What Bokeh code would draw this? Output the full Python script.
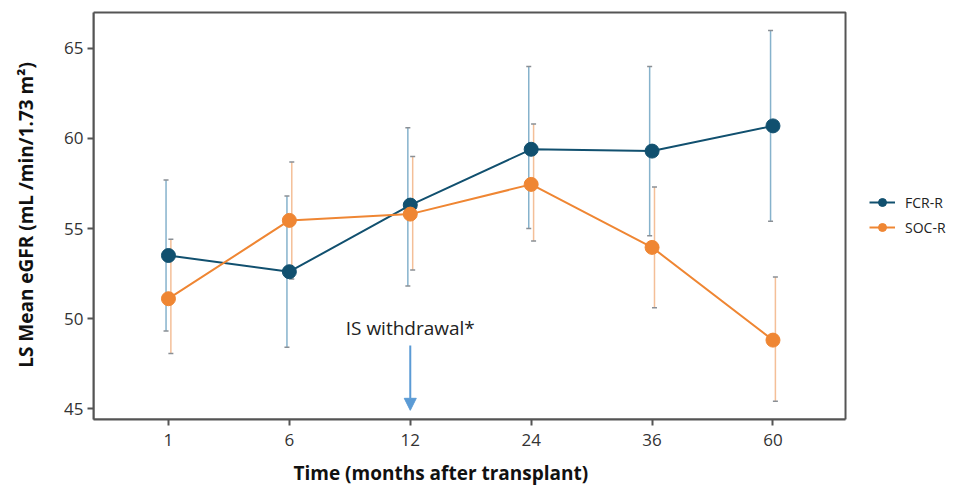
from bokeh.plotting import figure
from bokeh.models import (ColumnDataSource, Whisker, TeeHead, Legend, LegendItem,
                          FixedTicker, Arrow, NormalHead, Label, Range1d, BoxAnnotation,
                          Title)
from bokeh.embed import file_html
from bokeh.resources import INLINE

# ---- data ----
months = ["1", "6", "12", "24", "36", "60"]
fcr_mean = [53.5, 52.6, 56.3, 59.4, 59.3, 60.7]
fcr_upper = [57.7, 56.8, 60.6, 64.0, 64.0, 66.0]
fcr_lower = [49.3, 48.4, 51.8, 55.0, 54.6, 55.4]
soc_mean = [51.1, 55.45, 55.8, 57.45, 53.95, 48.8]
soc_upper = [54.4, 58.7, 59.0, 60.8, 57.3, 52.3]
soc_lower = [48.05, 52.2, 52.7, 54.3, 50.6, 45.4]
series_names = ["FCR-R", "SOC-R"]
y_ticks = [45, 50, 55, 60, 65]
x_title = "Time (months after transplant)"
y_title = "LS Mean eGFR (mL /min/1.73 m²)"

FONT = "Open Sans"
BLUE = "#11506f"
BLUE_ERR = "#86b2cc"
ORANGE = "#ef8633"
ORANGE_ERR = "#f4bf98"
ARROW = "#5b9bd5"
FRAME = "#555555"

idx = list(range(len(months)))

# visible plot box (data units); the canvas frame extends right to hold the legend
X_LO, X_HI = -0.62, 5.6
Y_LO, Y_HI = 44.39, 67.0
X_EXT = 6.551     # right edge of the canvas frame (legend area)
Y_EXT = 67.11     # small headroom so the top box edge is not clipped

p = figure(width=960, height=494, output_backend="svg", toolbar_location=None,
           x_range=Range1d(X_LO, X_EXT), y_range=Range1d(Y_LO, Y_EXT),
           min_border_left=93, min_border_right=0, min_border_top=10,
           min_border_bottom=75)
p.grid.visible = False
p.outline_line_color = None
p.background_fill_color = "white"
p.border_fill_color = "white"

p.add_layout(BoxAnnotation(left=X_LO, right=X_HI, bottom=Y_LO, top=Y_HI,
                           fill_alpha=0, line_color=FRAME, line_alpha=1.0,
                           line_width=2))

src_f = ColumnDataSource(dict(x=idx, xe=[i - 0.02 for i in idx], y=fcr_mean,
                              lo=fcr_lower, hi=fcr_upper))
src_s = ColumnDataSource(dict(x=idx, xe=[i + 0.02 for i in idx], y=soc_mean,
                              lo=soc_lower, hi=soc_upper))

for src, col in ((src_f, BLUE_ERR), (src_s, ORANGE_ERR)):
    w = Whisker(source=src, base="xe", upper="hi", lower="lo", dimension="height",
                line_color=col, line_width=1.5,
                upper_head=TeeHead(size=5, line_color="#8a8f95", line_width=1.5),
                lower_head=TeeHead(size=5, line_color="#8a8f95", line_width=1.5))
    p.add_layout(w)

lf = p.line("x", "y", source=src_f, line_color=BLUE, line_width=2)
cf = p.scatter("x", "y", source=src_f, size=14, fill_color=BLUE, line_color=BLUE)
ls = p.line("x", "y", source=src_s, line_color=ORANGE, line_width=2)
cs = p.scatter("x", "y", source=src_s, size=14, fill_color=ORANGE, line_color=ORANGE)

# axes
p.xaxis.ticker = FixedTicker(ticks=idx)
p.xaxis.major_label_overrides = {i: m for i, m in zip(idx, months)}
p.xaxis.bounds = (X_LO, X_HI)
p.yaxis.ticker = FixedTicker(ticks=y_ticks)
p.yaxis.bounds = (Y_LO, Y_HI)
for ax in (p.xaxis[0], p.yaxis[0]):
    ax.axis_line_color = FRAME
    ax.axis_line_width = 2
    ax.major_tick_line_color = FRAME
    ax.major_tick_line_width = 2
    ax.major_tick_out = 6
    ax.major_tick_in = 0
    ax.minor_tick_line_color = None
    ax.major_label_text_font = FONT
    ax.major_label_text_font_size = "17px"
    ax.major_label_text_color = "#333333"
    ax.axis_label_text_font = FONT
    ax.axis_label_text_font_size = "19px"
    ax.axis_label_text_font_style = "bold"
    ax.axis_label_text_color = "#111111"
p.xaxis.major_label_standoff = 8
p.yaxis.axis_label = y_title
p.yaxis.axis_label_standoff = 22
p.yaxis.major_label_standoff = 4

# x-axis title, centred under the visible box (not the whole canvas frame)
p.add_layout(Title(text=x_title, align="left", offset=200, standoff=18,
                   text_font=FONT, text_font_size="19px", text_font_style="bold",
                   text_color="#111111"), "below")

# IS withdrawal annotation
arrow_x = 2
p.add_layout(Arrow(end=NormalHead(size=12, fill_color=ARROW, line_color=ARROW),
                   x_start=arrow_x, y_start=48.5, x_end=arrow_x, y_end=44.9,
                   line_color=ARROW, line_width=2))
p.add_layout(Label(x=arrow_x, y=49.45, text="IS withdrawal*", text_align="center",
                   text_baseline="middle",
                   text_font=FONT, text_font_size="19px", text_color="#222222"))

legend = Legend(items=[LegendItem(label=series_names[0], renderers=[lf, cf]),
                       LegendItem(label=series_names[1], renderers=[ls, cs])],
                location=(776, 182), border_line_color=None, margin=0, padding=3,
                background_fill_alpha=0, label_text_font=FONT,
                label_text_font_size="14px", label_text_color="#222222",
                glyph_width=26, glyph_height=20, spacing=5, label_standoff=10)
p.add_layout(legend, "center")

open("out.html", "w").write(file_html(p, INLINE))
